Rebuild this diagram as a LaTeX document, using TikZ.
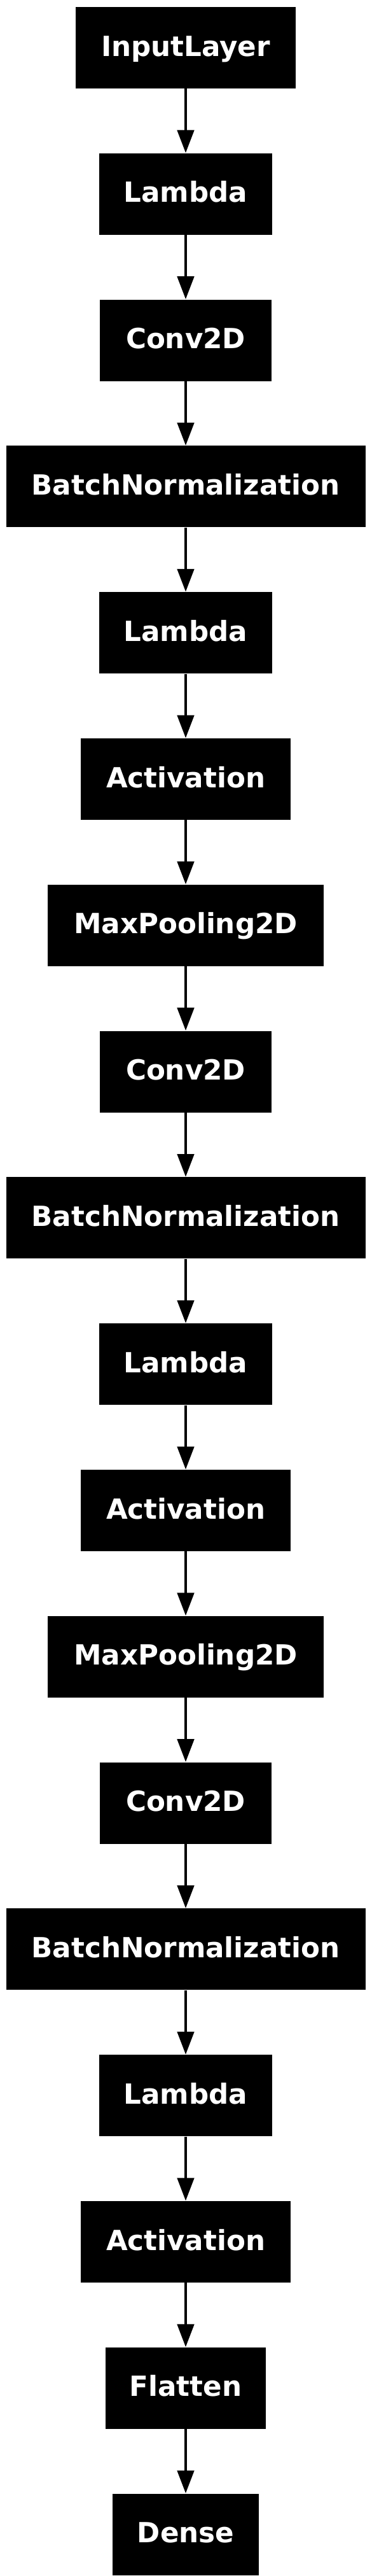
\documentclass[tikz,border=0pt]{standalone}
\usepackage{fontspec}
\setmainfont{DejaVu Sans}
\usetikzlibrary{positioning,arrows.meta}

\begin{document}
\begin{tikzpicture}[
    node distance=50.5pt,
    layer/.style={fill=black,text=white,inner sep=0pt,minimum height=64pt,
                  text height=16.3pt,text depth=3.3pt,
                  font=\fontsize{21.8}{26}\selectfont\bfseries},
    flow/.style={-{Triangle[length=18pt,width=13pt]},line width=2.4pt}
  ]
  \useasboundingbox (0,0) rectangle (292pt,-2023.5pt);

  \node[layer,minimum width=173pt] (inp) at (146pt,-37.5pt) {InputLayer};
  \node[layer,minimum width=136pt,below=of inp]   (lamA)  {Lambda};
  \node[layer,minimum width=135pt,below=of lamA]  (convA) {Conv2D};
  \node[layer,minimum width=282.5pt,below=of convA] (bnA) {BatchNormalization};
  \node[layer,minimum width=136pt,below=of bnA]   (lamB)  {Lambda};
  \node[layer,minimum width=165pt,below=of lamB]  (actA)  {Activation};
  \node[layer,minimum width=217pt,below=of actA]  (poolA) {MaxPooling2D};
  \node[layer,minimum width=135pt,below=of poolA] (convB) {Conv2D};
  \node[layer,minimum width=282.5pt,below=of convB] (bnB) {BatchNormalization};
  \node[layer,minimum width=136pt,below=of bnB]   (lamC)  {Lambda};
  \node[layer,minimum width=165pt,below=of lamC]  (actB)  {Activation};
  \node[layer,minimum width=217pt,below=of actB]  (poolB) {MaxPooling2D};
  \node[layer,minimum width=135pt,below=of poolB] (convC) {Conv2D};
  \node[layer,minimum width=282.5pt,below=of convC] (bnC) {BatchNormalization};
  \node[layer,minimum width=136pt,below=of bnC]   (lamD)  {Lambda};
  \node[layer,minimum width=165pt,below=of lamD]  (actC)  {Activation};
  \node[layer,minimum width=126pt,below=of actC]  (flat)  {Flatten};
  \node[layer,minimum width=115pt,below=of flat]  (dense) {Dense};

  \draw[flow] (inp) -- (lamA);
  \draw[flow] (lamA) -- (convA);
  \draw[flow] (convA) -- (bnA);
  \draw[flow] (bnA) -- (lamB);
  \draw[flow] (lamB) -- (actA);
  \draw[flow] (actA) -- (poolA);
  \draw[flow] (poolA) -- (convB);
  \draw[flow] (convB) -- (bnB);
  \draw[flow] (bnB) -- (lamC);
  \draw[flow] (lamC) -- (actB);
  \draw[flow] (actB) -- (poolB);
  \draw[flow] (poolB) -- (convC);
  \draw[flow] (convC) -- (bnC);
  \draw[flow] (bnC) -- (lamD);
  \draw[flow] (lamD) -- (actC);
  \draw[flow] (actC) -- (flat);
  \draw[flow] (flat) -- (dense);
\end{tikzpicture}
\end{document}
